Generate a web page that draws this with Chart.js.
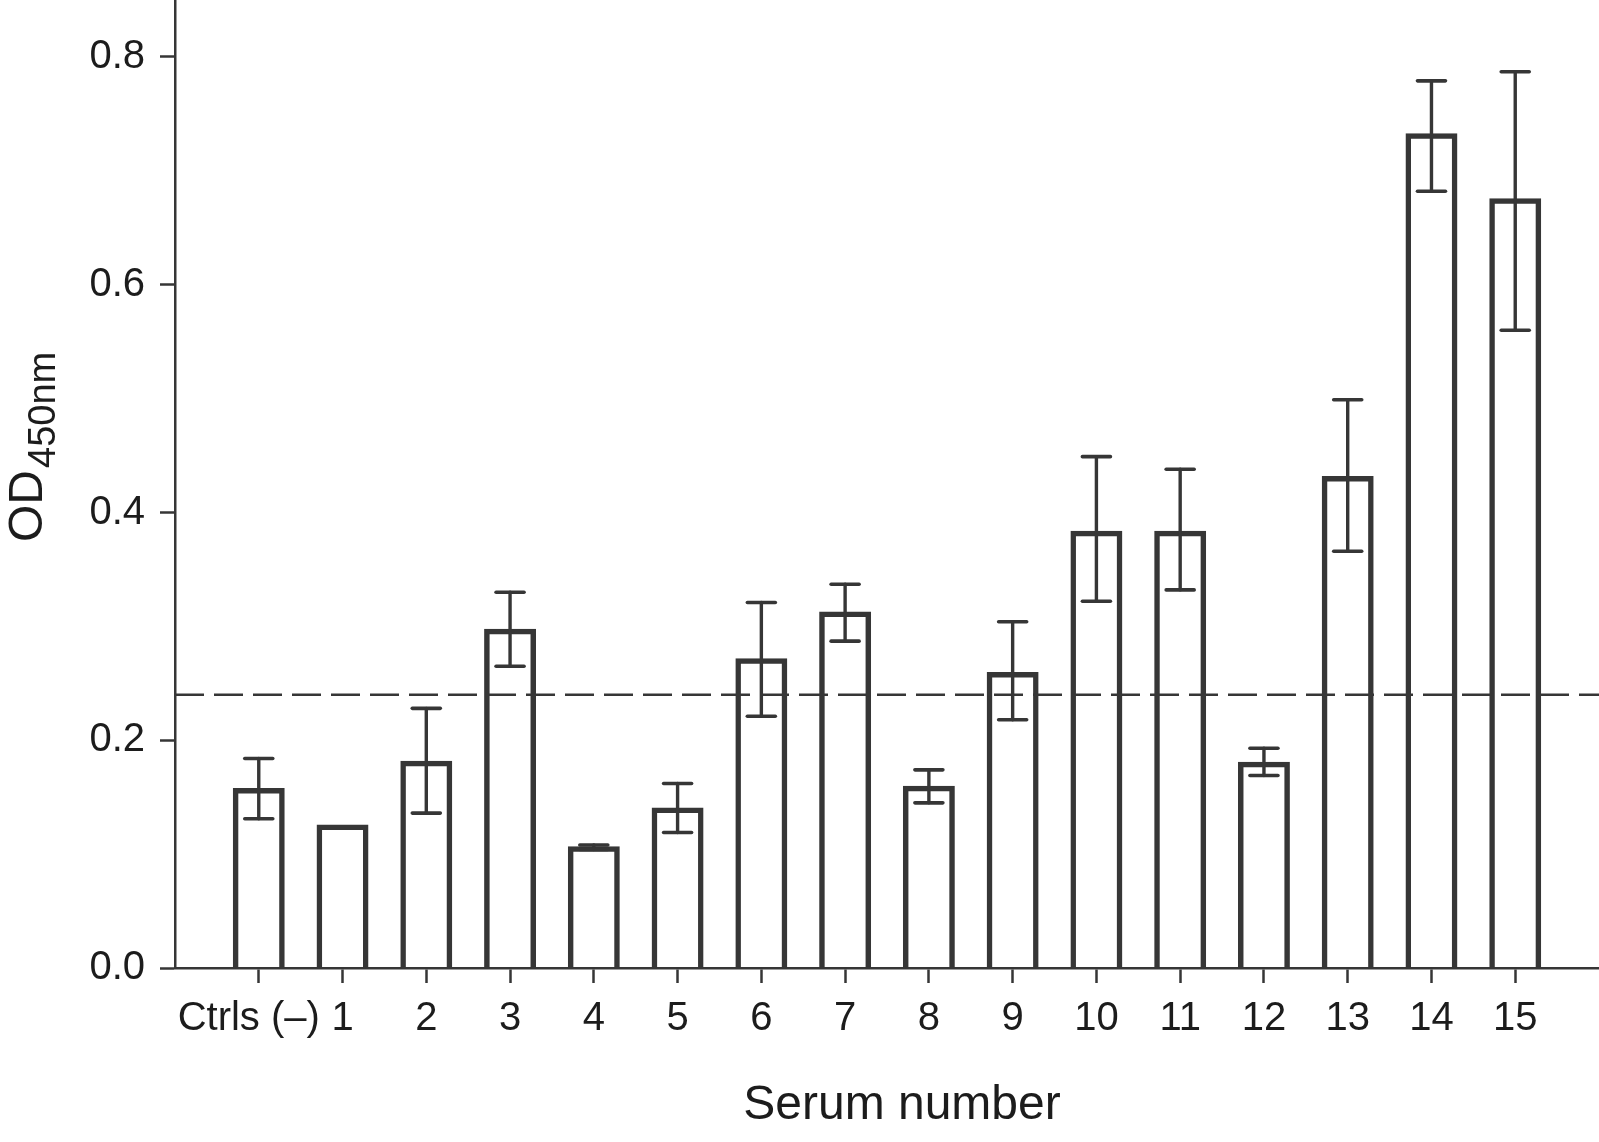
<!DOCTYPE html>
<html><head><meta charset="utf-8">
<script src="https://cdn.jsdelivr.net/npm/chart.js@4/dist/chart.umd.min.js"></script>
<style>html,body{margin:0;padding:0;background:#fff;}#wrap{width:1599px;height:1142px;}</style>
</head><body><div id="wrap"><canvas id="c" width="1599" height="1142"></canvas></div>
<script>
const categories = ['Ctrls (–)','1','2','3','4','5','6','7','8','9','10','11','12','13','14','15'];
const odValues = [0.158,0.126,0.182,0.298,0.107,0.141,0.272,0.313,0.160,0.260,0.384,0.384,0.181,0.432,0.733,0.676];
const errHigh  = [0.184,null,0.228,0.330,0.108,0.162,0.321,0.337,0.174,0.304,0.449,0.438,0.193,0.499,0.779,0.787];
const errLow   = [0.131,null,0.136,0.265,0.104,0.119,0.221,0.287,0.145,0.218,0.322,0.332,0.169,0.366,0.682,0.560];
const cutoff = 0.24;
const yTicks = [0, 0.2, 0.4, 0.6, 0.8];
const yMin = 0, yMax = 0.85;
const xTitle = 'Serum number';
const yTitleMain = 'OD', yTitleSub = '450nm';

const INK = '#363636';
const TEXT = '#1c1c1c';
const FONT = "'Liberation Sans', Arial, Helvetica, sans-serif";

const labels = [''].concat(categories, ['']);
const barData = [null].concat(odValues, [null]);
const cutoffData = labels.map(() => cutoff);

const errorBars = {
  id: 'errorBars',
  afterDatasetsDraw(chart) {
    const meta = chart.getDatasetMeta(1);
    const y = chart.scales.y;
    const ctx = chart.ctx;
    ctx.save();
    ctx.strokeStyle = INK;
    ctx.lineCap = 'round';
    odValues.forEach((v, i) => {
      if (errHigh[i] == null) return;
      const el = meta.data[i + 1];
      const x = el.x;
      const yh = y.getPixelForValue(errHigh[i]);
      const yl = y.getPixelForValue(errLow[i]);
      ctx.lineWidth = 3.4;
      ctx.beginPath(); ctx.moveTo(x, yh); ctx.lineTo(x, yl); ctx.stroke();
      ctx.lineWidth = 3.6;
      ctx.beginPath(); ctx.moveTo(x - 14, yh); ctx.lineTo(x + 14, yh); ctx.stroke();
      ctx.beginPath(); ctx.moveTo(x - 14, yl); ctx.lineTo(x + 14, yl); ctx.stroke();
    });
    ctx.restore();
  }
};

const titles = {
  id: 'titles',
  afterDraw(chart) {
    const ctx = chart.ctx;
    const a = chart.chartArea;
    ctx.save();
    ctx.fillStyle = TEXT;
    ctx.textBaseline = 'alphabetic';
    ctx.textAlign = 'center';
    ctx.font = '48px ' + FONT;
    ctx.fillText(xTitle, (a.left + a.right) / 2 + 15, 1119);
    ctx.translate(42, 542);
    ctx.rotate(-Math.PI / 2);
    ctx.textAlign = 'left';
    ctx.font = '48px ' + FONT;
    ctx.fillText(yTitleMain, 0, 0);
    const w = ctx.measureText(yTitleMain).width;
    ctx.font = '38px ' + FONT;
    ctx.fillText(yTitleSub, w + 2, 13);
    ctx.restore();
  }
};

new Chart(document.getElementById('c'), {
  data: {
    labels: labels,
    datasets: [
      {
        type: 'line', data: cutoffData, order: 0,
        borderColor: INK, borderWidth: 2.5, borderDash: [29, 10],
        pointRadius: 0, fill: false, tension: 0
      },
      {
        type: 'bar', data: barData, order: 1,
        backgroundColor: 'rgba(255,255,255,0)', borderColor: INK, borderWidth: 5.5,
        borderSkipped: 'start', barPercentage: 0.62, categoryPercentage: 1
      }
    ]
  },
  options: {
    responsive: false, devicePixelRatio: 1, animation: false,
    layout: { padding: 0 },
    plugins: { legend: { display: false }, tooltip: { enabled: false } },
    scales: {
      x: {
        type: 'category', offset: false,
        grid: {
          offset: false,
          drawOnChartArea: false, drawTicks: true, tickLength: 15, tickWidth: 2.5,
          tickColor: (c) => (c.index === 0 || c.index === labels.length - 1) ? 'rgba(0,0,0,0)' : INK
        },
        border: { display: true, color: INK, width: 2.5 },
        ticks: {
          autoSkip: false, maxRotation: 0, minRotation: 0, padding: 12, color: TEXT,
          font: { family: FONT, size: 40 },
          callback: (v, i) => i === 1 ? labels[i] + '\u2002' : labels[i]
        },
        afterFit(s) { s.height = 174; s.paddingLeft = 0; s.paddingRight = 0; }
      },
      y: {
        type: 'linear', min: yMin, max: yMax,
        afterBuildTicks(s) { s.ticks = yTicks.map(v => ({ value: v })); },
        grid: { drawOnChartArea: false, drawTicks: true, tickLength: 15, tickWidth: 2.5, tickColor: INK },
        border: { display: true, color: INK, width: 2.5 },
        ticks: { padding: 15, color: TEXT, font: { family: FONT, size: 40 }, callback: (v) => Number(v).toFixed(1) },
        afterFit(s) { s.width = 175; s.paddingTop = 0; s.paddingBottom = 0; }
      }
    }
  },
  plugins: [errorBars, titles]
});
</script></body></html>
